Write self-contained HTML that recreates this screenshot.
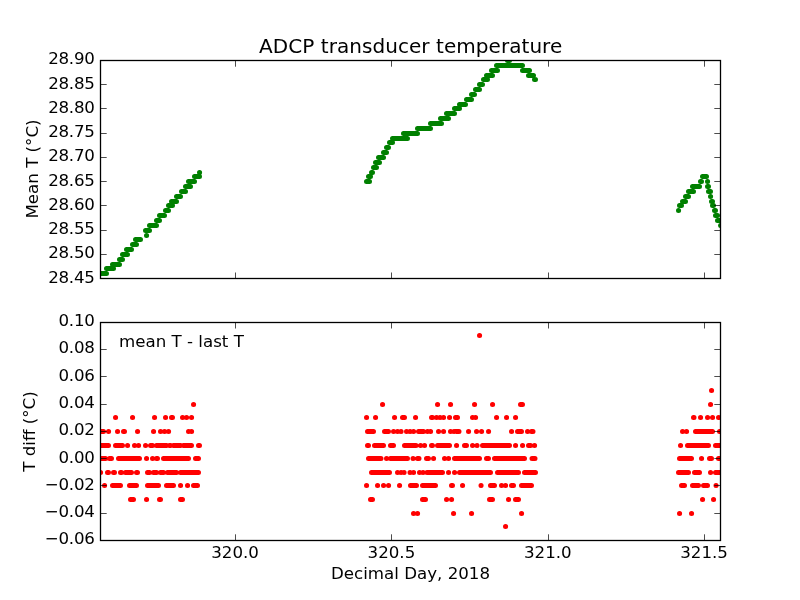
<!DOCTYPE html>
<html lang="en"><head><meta charset="utf-8"><title>ADCP transducer temperature</title>
<style>html,body{margin:0;padding:0;background:#fff;overflow:hidden}svg{display:block;will-change:transform}text{font-family:"DejaVu Sans","Liberation Sans",sans-serif;fill:#000}.t{font-size:16.67px}.n{letter-spacing:-0.25px}.ttl{font-size:20px;letter-spacing:0.05px}.ax{fill:none;stroke:#000;stroke-width:1.3}.tk{stroke:#000;stroke-width:0.7}.g{stroke:#008000;stroke-width:5;stroke-linecap:round;fill:none}.r{stroke:#ff0000;stroke-width:5;stroke-linecap:round;fill:none}</style></head><body>
<svg width="800" height="600" viewBox="0 0 800 600">
<rect width="800" height="600" fill="#fff"/>
<defs><clipPath id="c1"><rect x="100" y="60" width="620" height="218.2"/></clipPath><clipPath id="c2"><rect x="100" y="321.8" width="620" height="218.2"/></clipPath></defs>
<g clip-path="url(#c1)"><path class="g" d="M100.5 273.5H106.5M106.5 268.5H113.5M112.5 264.5H119.5M119.5 259.5H122.5M122.5 254.5H127.5M126.5 249.5H131.5M132.5 244.5H136.5M135.5 239.5H140.5M146.5 235.5H146.6M145.5 230.5H149.5M149.5 225.5H156.5M720.5 225.5H721.5M156.5 220.5H159.5M717.5 220.5H719.5M159.5 215.5H164.5M715.5 215.5H717.5M165.5 210.5H168.5M678.5 210.5H678.6M714.5 210.5H715.5M168.5 205.5H172.5M679.5 205.5H681.5M712.5 205.5H713.5M171.5 201.5H176.5M682.5 201.5H685.5M711.5 201.5H712.5M176.5 196.5H180.5M685.5 196.5H688.5M710.5 196.5H710.6M181.5 191.5H185.5M688.5 191.5H693.5M708.5 191.5H710.5M185.5 186.5H190.5M692.5 186.5H699.5M707.5 186.5H708.5M188.5 181.5H194.5M366.5 181.5H369.5M700.5 181.5H701.5M707.5 181.5H707.6M194.5 176.5H199.5M368.5 176.5H370.5M702.5 176.5H706.5M199.5 172.5H199.6M371.5 172.5H372.5M373.5 167.5H376.5M375.5 162.5H379.5M378.5 157.5H383.5M383.5 152.5H386.5M386.5 147.5H388.5M389.5 142.5H392.5M392.5 138.5H407.5M403.5 133.5H417.5M417.5 128.5H430.5M430.5 123.5H441.5M440.5 118.5H448.5M446.5 113.5H454.5M454.5 108.5H459.5M459.5 104.5H465.5M466.5 99.5H471.5M471.5 94.5H474.5M475.5 89.5H479.5M479.5 84.5H482.5M483.5 79.5H487.5M534.5 79.5H535.5M486.5 75.5H492.5M528.5 75.5H533.5M491.5 70.5H497.5M522.5 70.5H529.5M496.5 65.5H522.5M507.5 60.5H509.5"/></g>
<g clip-path="url(#c2)"><path class="r" d="M193.5 404.5H193.6M382.5 404.5H382.6M437.5 404.5H437.6M450.5 404.5H450.6M474.5 404.5H474.6M492.5 404.5H492.6M520.5 404.5H522.5M710.5 404.5H710.6M115.5 417.5H115.6M132.5 417.5H132.6M154.5 417.5H154.6M165.5 417.5H165.6M171.5 417.5H172.5M182.5 417.5H182.6M186.5 417.5H186.6M191.5 417.5H191.6M366.5 417.5H366.6M375.5 417.5H375.6M394.5 417.5H394.6M402.5 417.5H404.5M415.5 417.5H415.6M431.5 417.5H432.5M436.5 417.5H436.6M440.0 417.5H440.1M443.5 417.5H443.6M449.5 417.5H449.6M455.5 417.5H457.5M472.5 417.5H472.6M475.5 417.5H475.6M496.5 417.5H496.6M506.5 417.5H506.6M515.5 417.5H515.6M693.5 417.5H694.0M700.5 417.5H700.6M707.5 417.5H707.6M712.5 417.5H712.6M718.5 417.5H718.6M100.5 431.5H103.5M108.5 431.5H108.6M117.5 431.5H117.6M123.5 431.5H124.5M137.5 431.5H137.6M153.5 431.5H153.6M160.5 431.5H160.6M164.5 431.5H164.6M168.5 431.5H168.6M188.5 431.5H188.6M191.5 431.5H191.6M367.5 431.5H373.5M384.5 431.5H388.5M393.5 431.5H393.6M397.5 431.5H397.6M401.0 431.5H401.1M406.5 431.5H406.6M410.0 431.5H410.1M413.5 431.5H413.6M418.5 431.5H423.5M427.5 431.5H427.6M430.5 431.5H430.6M438.5 431.5H438.6M443.5 431.5H443.6M450.5 431.5H450.6M454.0 431.5H454.1M456.5 431.5H459.0M468.5 431.5H468.6M476.5 431.5H476.6M481.5 431.5H481.6M488.5 431.5H488.6M511.5 431.5H511.6M517.5 431.5H521.5M527.5 431.5H527.6M531.5 431.5H533.0M682.5 431.5H682.6M686.5 431.5H686.6M695.5 431.5H712.5M719.5 431.5H719.6M100.5 445.5H108.5M115.5 445.5H122.5M127.5 445.5H127.6M134.5 445.5H134.6M138.5 445.5H138.6M145.5 445.5H145.6M150.5 445.5H152.5M156.5 445.5H166.5M169.5 445.5H170.5M173.5 445.5H180.5M183.5 445.5H191.5M198.5 445.5H199.5M367.5 445.5H368.5M374.5 445.5H383.5M390.5 445.5H393.5M404.5 445.5H416.0M420.5 445.5H420.6M424.5 445.5H424.6M431.5 445.5H432.5M437.5 445.5H449.5M456.5 445.5H456.6M464.5 445.5H466.5M472.5 445.5H472.6M477.0 445.5H477.1M482.5 445.5H509.5M515.5 445.5H515.6M522.5 445.5H522.6M528.5 445.5H530.5M534.5 445.5H534.6M680.5 445.5H680.6M687.5 445.5H708.5M715.5 445.5H720.5M100.5 458.5H105.5M109.5 458.5H111.5M118.5 458.5H139.5M146.5 458.5H146.6M152.5 458.5H152.6M156.5 458.5H157.5M163.5 458.5H188.5M195.5 458.5H198.5M368.5 458.5H381.0M386.5 458.5H386.6M390.5 458.5H407.5M413.0 458.5H413.1M417.5 458.5H419.0M426.5 458.5H428.5M433.5 458.5H433.6M444.5 458.5H444.6M448.5 458.5H448.6M454.5 458.5H479.5M486.5 458.5H488.5M494.5 458.5H524.5M532.0 458.5H535.0M679.5 458.5H691.5M701.5 458.5H701.6M709.5 458.5H711.5M718.5 458.5H720.5M100.5 472.5H100.6M107.5 472.5H108.5M113.5 472.5H114.5M120.5 472.5H121.5M125.5 472.5H131.5M136.5 472.5H137.5M147.5 472.5H149.5M153.5 472.5H156.5M160.5 472.5H163.5M167.5 472.5H176.5M180.5 472.5H198.5M371.5 472.5H389.5M397.5 472.5H397.6M401.0 472.5H401.1M404.0 472.5H404.1M410.0 472.5H410.1M413.5 472.5H413.6M419.5 472.5H419.6M423.0 472.5H423.1M427.0 472.5H442.5M448.5 472.5H448.6M454.5 472.5H454.6M459.5 472.5H490.5M497.5 472.5H518.5M524.5 472.5H535.5M678.5 472.5H688.5M694.5 472.5H699.5M710.5 472.5H710.6M715.5 472.5H720.5M104.5 485.5H104.6M112.5 485.5H120.5M129.5 485.5H136.5M147.5 485.5H158.5M166.5 485.5H173.5M180.5 485.5H180.6M187.5 485.5H187.6M193.5 485.5H197.5M366.5 485.5H366.6M377.5 485.5H377.6M383.5 485.5H383.6M388.5 485.5H388.6M399.5 485.5H399.6M410.5 485.5H416.5M422.5 485.5H435.5M451.5 485.5H452.5M462.5 485.5H462.6M481.0 485.5H481.1M490.5 485.5H494.5M501.5 485.5H501.6M505.5 485.5H505.6M511.5 485.5H513.5M521.5 485.5H531.5M681.5 485.5H684.5M692.5 485.5H698.5M703.5 485.5H707.5M716.0 485.5H716.1M130.5 499.5H133.5M146.5 499.5H146.6M159.5 499.5H160.5M180.5 499.5H182.5M370.5 499.5H372.5M422.5 499.5H425.5M446.5 499.5H446.6M451.5 499.5H451.6M489.5 499.5H492.5M508.5 499.5H508.6M515.5 499.5H518.5M702.5 499.5H702.6M713.5 499.5H713.6M479.5 335.5H479.6M413.5 513.5H413.6M417.5 513.5H417.6M453.5 513.5H453.6M471.5 513.5H471.6M521.5 513.5H521.6M679.5 513.5H679.6M691.5 513.5H691.6M505.5 526.5H505.6M711.5 390.5H711.6"/></g>
<rect class="ax" x="100.5" y="60.5" width="620" height="218"/>
<rect class="ax" x="100.5" y="322.5" width="620" height="218"/>
<path class="tk" d="M235.5 60.5v6.20M235.5 278.7v-6.20M235.5 322.3v6.20M235.5 540.5v-6.20M391.5 60.5v6.20M391.5 278.7v-6.20M391.5 322.3v6.20M391.5 540.5v-6.20M548.5 60.5v6.20M548.5 278.7v-6.20M548.5 322.3v6.20M548.5 540.5v-6.20M704.5 60.5v6.20M704.5 278.7v-6.20M704.5 322.3v6.20M704.5 540.5v-6.20M100.5 278.5h6.20M720.5 278.5h-6.20M100.5 254.5h6.20M720.5 254.5h-6.20M100.5 230.5h6.20M720.5 230.5h-6.20M100.5 205.5h6.20M720.5 205.5h-6.20M100.5 181.5h6.20M720.5 181.5h-6.20M100.5 157.5h6.20M720.5 157.5h-6.20M100.5 133.5h6.20M720.5 133.5h-6.20M100.5 108.5h6.20M720.5 108.5h-6.20M100.5 84.5h6.20M720.5 84.5h-6.20M100.5 60.5h6.20M720.5 60.5h-6.20M100.5 540.5h6.20M720.5 540.5h-6.20M100.5 513.5h6.20M720.5 513.5h-6.20M100.5 485.5h6.20M720.5 485.5h-6.20M100.5 458.5h6.20M720.5 458.5h-6.20M100.5 431.5h6.20M720.5 431.5h-6.20M100.5 404.5h6.20M720.5 404.5h-6.20M100.5 376.5h6.20M720.5 376.5h-6.20M100.5 349.5h6.20M720.5 349.5h-6.20M100.5 322.5h6.20M720.5 322.5h-6.20"/>
<g class="t">
<text class="n" x="94.6" y="283.0" text-anchor="end">28.45</text>
<text class="n" x="94.6" y="258.0" text-anchor="end">28.50</text>
<text class="n" x="94.6" y="234.0" text-anchor="end">28.55</text>
<text class="n" x="94.6" y="210.0" text-anchor="end">28.60</text>
<text class="n" x="94.6" y="186.0" text-anchor="end">28.65</text>
<text class="n" x="94.6" y="161.0" text-anchor="end">28.70</text>
<text class="n" x="94.6" y="137.0" text-anchor="end">28.75</text>
<text class="n" x="94.6" y="113.0" text-anchor="end">28.80</text>
<text class="n" x="94.6" y="89.0" text-anchor="end">28.85</text>
<text class="n" x="94.6" y="64.0" text-anchor="end">28.90</text>
<text class="n" x="94.6" y="544.0" text-anchor="end">−0.06</text>
<text class="n" x="94.6" y="517.0" text-anchor="end">−0.04</text>
<text class="n" x="94.6" y="490.0" text-anchor="end">−0.02</text>
<text class="n" x="94.6" y="463.0" text-anchor="end">0.00</text>
<text class="n" x="94.6" y="435.0" text-anchor="end">0.02</text>
<text class="n" x="94.6" y="408.0" text-anchor="end">0.04</text>
<text class="n" x="94.6" y="381.0" text-anchor="end">0.06</text>
<text class="n" x="94.6" y="353.0" text-anchor="end">0.08</text>
<text class="n" x="94.6" y="326.0" text-anchor="end">0.10</text>
<text x="235.1" y="557.8" text-anchor="middle">320.0</text>
<text x="391.4" y="557.8" text-anchor="middle">320.5</text>
<text x="547.8" y="557.8" text-anchor="middle">321.0</text>
<text x="704.1" y="557.8" text-anchor="middle">321.5</text>
<text x="410.5" y="579" text-anchor="middle">Decimal Day, 2018</text>
<text x="119" y="347">mean T - last T</text>
<text transform="translate(38,169) rotate(-90)" text-anchor="middle">Mean T (°C)</text>
<text transform="translate(34.5,431.5) rotate(-90)" text-anchor="middle">T diff (°C)</text>
</g>
<text class="ttl" x="410.7" y="52.8" text-anchor="middle">ADCP transducer temperature</text>
</svg></body></html>
